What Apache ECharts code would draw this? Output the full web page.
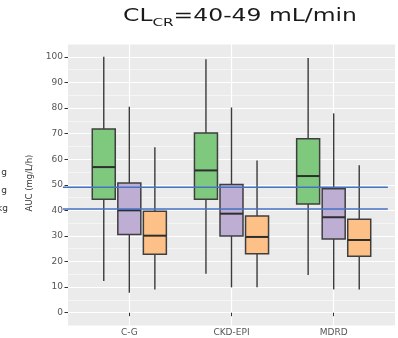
<!DOCTYPE html>
<html>
<head>
<meta charset="utf-8">
<script src="https://cdn.jsdelivr.net/npm/echarts@6/dist/echarts.min.js"></script>
<style>
    html, body { margin: 0; padding: 0; background: #fff; }
    #chart { width: 398px; height: 338px; }
</style>
</head>
<body>
<div id="chart"></div>
<script>
// methods on the x axis
var categories = ['C-G', 'CKD-EPI', 'MDRD'];

// [lower whisker, Q1, median, Q3, upper whisker] for each method
var greenGroup = [
    [12.4, 44.3, 56.9, 71.8, 100],
    [15.2, 44.3, 55.6, 70.2, 99],
    [14.7, 42.5, 53.4, 68.0, 99.5]
];
var purpleGroup = [
    [7.8, 30.6, 40.0, 50.7, 80.5],
    [9.9, 30.0, 38.7, 50.1, 80.2],
    [9.1, 28.8, 37.3, 48.4, 77.9]
];
var orangeGroup = [
    [9.1, 22.8, 30.1, 39.6, 64.7],
    [9.9, 23.0, 29.6, 37.8, 59.5],
    [9.1, 22.1, 28.4, 36.5, 57.6]
];

// target range lines
var refLines = [49, 40.5];

var yTicks = [0, 10, 20, 30, 40, 50, 60, 70, 80, 90, 100];
var xTicks = [1, 2, 3];

var groups = [
    { data: greenGroup, color: '#7fc97f', offset: -0.25 },
    { data: purpleGroup, color: '#beaed4', offset: 0 },
    { data: orangeGroup, color: '#fdc086', offset: 0.25 }
];
var boxWidth = 0.225;
var refFrom = 0.35, refTo = 3.53;

function renderBox(params, api) {
    var x = api.value(0);
    var lo = api.coord([x, api.value(1)]);
    var q1 = api.coord([x, api.value(2)]);
    var med = api.coord([x, api.value(3)]);
    var q3 = api.coord([x, api.value(4)]);
    var hi = api.coord([x, api.value(5)]);
    var w = api.size([boxWidth, 0])[0];
    var whisker = { stroke: '#3b3b3b', lineWidth: 1.4 };
    return {
        type: 'group',
        children: [
            { type: 'line', shape: { x1: lo[0], y1: lo[1], x2: q1[0], y2: q1[1] }, style: whisker },
            { type: 'line', shape: { x1: q3[0], y1: q3[1], x2: hi[0], y2: hi[1] }, style: whisker },
            {
                type: 'rect',
                shape: { x: q3[0] - w / 2, y: q3[1], width: w, height: q1[1] - q3[1] },
                style: { fill: api.visual('color'), stroke: '#3f3f3f', lineWidth: 1.5 }
            },
            {
                type: 'line',
                shape: { x1: med[0] - w / 2, y1: med[1], x2: med[0] + w / 2, y2: med[1] },
                style: { stroke: '#2e2e2e', lineWidth: 2 }
            }
        ]
    };
}

function renderRef(params, api) {
    var a = api.coord([api.value(0), api.value(1)]);
    var b = api.coord([api.value(2), api.value(1)]);
    return {
        type: 'line',
        shape: { x1: a[0], y1: a[1], x2: b[0], y2: b[1] },
        style: { stroke: '#4472c4', lineWidth: 1.5 }
    };
}

var series = groups.map(function (g) {
    return {
        type: 'custom',
        renderItem: renderBox,
        itemStyle: { color: g.color },
        encode: { x: 0, y: [1, 2, 3, 4, 5] },
        data: g.data.map(function (d, i) {
            return [i + 1 + g.offset].concat(d);
        })
    };
});
series.push({
    type: 'custom',
    renderItem: renderRef,
    clip: false,
    z: 5,
    encode: { x: [0, 2], y: 1 },
    data: refLines.map(function (v) { return [refFrom, v, refTo]; })
});

var chart = echarts.init(document.getElementById('chart'));
chart.setOption({
    animation: false,
    backgroundColor: '#fff',
    grid: { left: 68, right: 3, top: 44, bottom: 12.5, show: true, backgroundColor: '#ebebeb', borderWidth: 0 },
    xAxis: {
        type: 'value',
        min: 0.4,
        max: 3.6,
        axisLine: { show: false },
        axisTick: { customValues: xTicks, length: 3.5, lineStyle: { color: '#333', width: 1 } },
        axisLabel: {
            customValues: xTicks,
            margin: 3,
            fontFamily: 'DejaVu Sans',
            fontSize: 9,
            color: '#555',
            formatter: function (v) { return categories[Math.round(v) - 1]; }
        },
        splitLine: { show: true, lineStyle: { color: '#fff', width: 1.2 } }
    },
    yAxis: [{
        type: 'value',
        min: -5,
        max: 105,
        interval: 5,
        axisLine: { show: false },
        axisTick: { show: false },
        axisLabel: { show: false },
        splitLine: { show: true, lineStyle: { color: ['#f5f5f5', '#ffffff'], width: 1.1 } }
    }, {
        type: 'value',
        position: 'left',
        min: -5,
        max: 105,
        axisLine: { show: false },
        axisTick: { customValues: yTicks, length: 3.5, lineStyle: { color: '#333', width: 1 } },
        axisLabel: {
            customValues: yTicks,
            margin: 5,
            fontFamily: 'DejaVu Sans',
            fontSize: 9,
            color: '#555'
        },
        splitLine: { show: false }
    }],
    graphic: [{
        type: 'text',
        x: 240,
        y: 5,
        scaleX: 1.38,
        style: {
            text: '{a|CL}{b|CR}{a|=40-49 mL/min}',
            textAlign: 'center',
            textVerticalAlign: 'top',
            rich: {
                a: { fontFamily: 'DejaVu Sans', fontSize: 17, lineHeight: 24, fill: '#1a1a1a' },
                b: { fontFamily: 'DejaVu Sans', fontSize: 11, lineHeight: 24, verticalAlign: 'bottom', fill: '#1a1a1a' }
            }
        }
    }, {
        type: 'text',
        x: 30,
        y: 183,
        rotation: Math.PI / 2,
        style: {
            text: 'AUC (mg/L/h)',
            textAlign: 'center',
            textVerticalAlign: 'middle',
            fontFamily: 'DejaVu Sans',
            fontSize: 8.5,
            fill: '#333'
        }
    }, {
        type: 'text',
        x: 7,
        y: 173,
        style: { text: 'g', textAlign: 'right', textVerticalAlign: 'middle', fontFamily: 'DejaVu Sans', fontSize: 9, fill: '#333' }
    }, {
        type: 'text',
        x: 7,
        y: 191,
        style: { text: 'g', textAlign: 'right', textVerticalAlign: 'middle', fontFamily: 'DejaVu Sans', fontSize: 9, fill: '#333' }
    }, {
        type: 'text',
        x: 8,
        y: 209,
        style: { text: 'kg', textAlign: 'right', textVerticalAlign: 'middle', fontFamily: 'DejaVu Sans', fontSize: 9, fill: '#333' }
    }],
    series: series
});
</script>
</body>
</html>
